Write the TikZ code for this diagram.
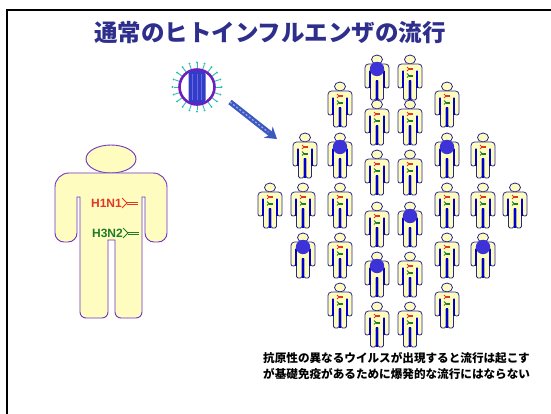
\documentclass[tikz,border=0pt]{standalone}
\usepackage{fontspec}
\newfontfamily\jpfont{Noto Sans CJK JP}
\newfontfamily\labelfont{Liberation Sans}
\usepackage{xcolor}
\usetikzlibrary{arrows.meta}

\definecolor{titleblue}{RGB}{46,46,140}
\definecolor{outline}{RGB}{40,40,140}
\definecolor{abred}{RGB}{225,55,35}
\definecolor{abgreen}{RGB}{30,125,40}
\definecolor{spikecol}{RGB}{40,190,175}
\definecolor{ringcol}{RGB}{110,30,190}
\definecolor{sickblue}{RGB}{60,50,215}
\definecolor{corecol}{RGB}{50,60,200}
\definecolor{arrowblue}{RGB}{60,90,190}

\begin{document}
\begin{tikzpicture}[
    x=1pt, y=-1pt,
    skin/.style={fill=yellow!25, draw=outline, line width=0.8pt},
    bigskin/.style={fill=yellow!25, draw=blue!60!purple!80, line width=0.9pt},
    antibody/.pic={
        \draw[line width=0.9pt] (0,-5) -- (5,0) -- (0,5);
        \draw[line width=0.7pt] (5,-1) -- (16,-1) (5,1) -- (16,1);
    },
    person/.pic={
        \draw[skin] (0,4.5) ellipse [x radius=5.5, y radius=4.5];
        \draw[skin] (0,9) [rounded corners=3.5] -- (12,9) [rounded corners=2] -- (12,33) -- (7.5,33)
            [sharp corners] -- (7.5,16) -- (6.5,16) [rounded corners=1.5] -- (6.5,45) -- (1,45)
            [sharp corners] -- (1,26) -- (-1,26) [rounded corners=1.5] -- (-1,45) -- (-6.5,45)
            [sharp corners] -- (-6.5,16) -- (-7.5,16) [rounded corners=2] -- (-7.5,33) -- (-12,33)
            [rounded corners=3.5] -- (-12,9) -- cycle;
        \draw[blue!80!black, line width=1.8pt] (0,25) -- (0,44.6);
        \draw[blue!80!black, line width=1.2pt] (7,16) -- (7,33) (-7,16) -- (-7,33);
    },
    healthy/.pic={
        \pic {person};
        \pic[abred, scale=0.4] at (-3,14) {antibody};
        \pic[abgreen, scale=0.4] at (-3,20.5) {antibody};
    },
    patient/.pic={
        \pic {person};
        \fill[sickblue] (0,14) circle [radius=7.2];
    },
    infect/.style={-{Stealth[length=11pt,width=14pt]}, line width=5.5pt, arrowblue}
]
    \useasboundingbox (0,0) rectangle (551,414);
    \fill[white] (0,0) rectangle (551,414);
    \draw[line width=2pt] (7,414) -- (7,10) -- (551,10);

    \node[inner sep=0, text=titleblue, font=\jpfont\bfseries\fontsize{23.5}{26}\selectfont] (title) at (270,33)
        {通常のヒトインフルエンザの流行};

    % left figure with its antibodies
    \begin{scope}[shift={(111,145)}]
        \draw[bigskin] (0,14) ellipse [x radius=25, y radius=14];
        \draw[bigskin] (0,28) [rounded corners=14] -- (56,28) [rounded corners=9] -- (56,97) -- (34,97)
            [sharp corners] -- (34,52) -- (31,52) [rounded corners=6] -- (31,173) -- (4,173)
            [sharp corners] -- (4,95) -- (-3,95) [rounded corners=6] -- (-3,173) -- (-31,173)
            [sharp corners] -- (-31,52) -- (-34,52) [rounded corners=9] -- (-34,97) -- (-56,97)
            [rounded corners=14] -- (-56,28) -- cycle;
    \end{scope}
    \node[anchor=east, inner sep=0, text=abred, font=\labelfont\bfseries\fontsize{12}{12}\selectfont] (h1n1) at (122,203) {H1N1};
    \node[anchor=east, inner sep=0, text=abgreen, font=\labelfont\bfseries\fontsize{12}{12}\selectfont] (h3n2) at (123,233) {H3N2};
    \pic[abred] at (h1n1.east) {antibody};
    \pic[abgreen] at (h3n2.east) {antibody};

    % virus
    \foreach \a in {0,18,...,342} {
        \draw[spikecol, line width=0.9pt] (197,87) ++(\a:19) -- ++(\a:4.5);
        \fill[spikecol] (197,87) ++(\a:24.5) circle [radius=1.1];
    }
    \node[circle, draw=ringcol, line width=2.6pt, fill=white, minimum size=35pt, inner sep=0] (virus) at (197,87) {};
    \node[rectangle, rounded corners=3pt, fill=corecol, minimum width=17pt, minimum height=32pt, inner sep=0] (core) at (virus) {};
    \foreach \dx in {-4.5,0,4.5}
        \draw[blue!30!corecol!70!white, line width=0.6pt] ([xshift=\dx pt, yshift=-3pt]core.north) -- ([xshift=\dx pt, yshift=3pt]core.south);

    \coordinate (launch) at (230,102);
    \coordinate (hit) at (277,139);
    \draw[infect] (launch) -- (hit);
    \draw[blue!35!white, line width=1.2pt, dash pattern=on 2pt off 2pt, shorten >=11pt] (launch) -- (hit);

    % crowd
    \foreach \x/\y in {410/55, 340/82, 447/82, 377/100, 410/100, 305/133, 483/133, 377/150, 410/150,
        270/183, 303/183, 340/183, 447/183, 483/183, 515/183, 377/202, 340/233, 447/233,
        410/252, 340/283, 447/283, 377/302, 410/302}
        \pic at (\x,\y) {healthy};
    \foreach \x/\y in {377/55, 340/133, 447/133, 410/202, 303/233, 483/233, 377/252}
        \pic at (\x,\y) {patient};

    \node[anchor=west, align=left, inner sep=0, font=\jpfont\bfseries\fontsize{11.6}{16}\selectfont] (note) at (263,366)
        {抗原性の異なるウイルスが出現すると流行は起こす\\が基礎免疫があるために爆発的な流行にはならない};
\end{tikzpicture}
\end{document}
